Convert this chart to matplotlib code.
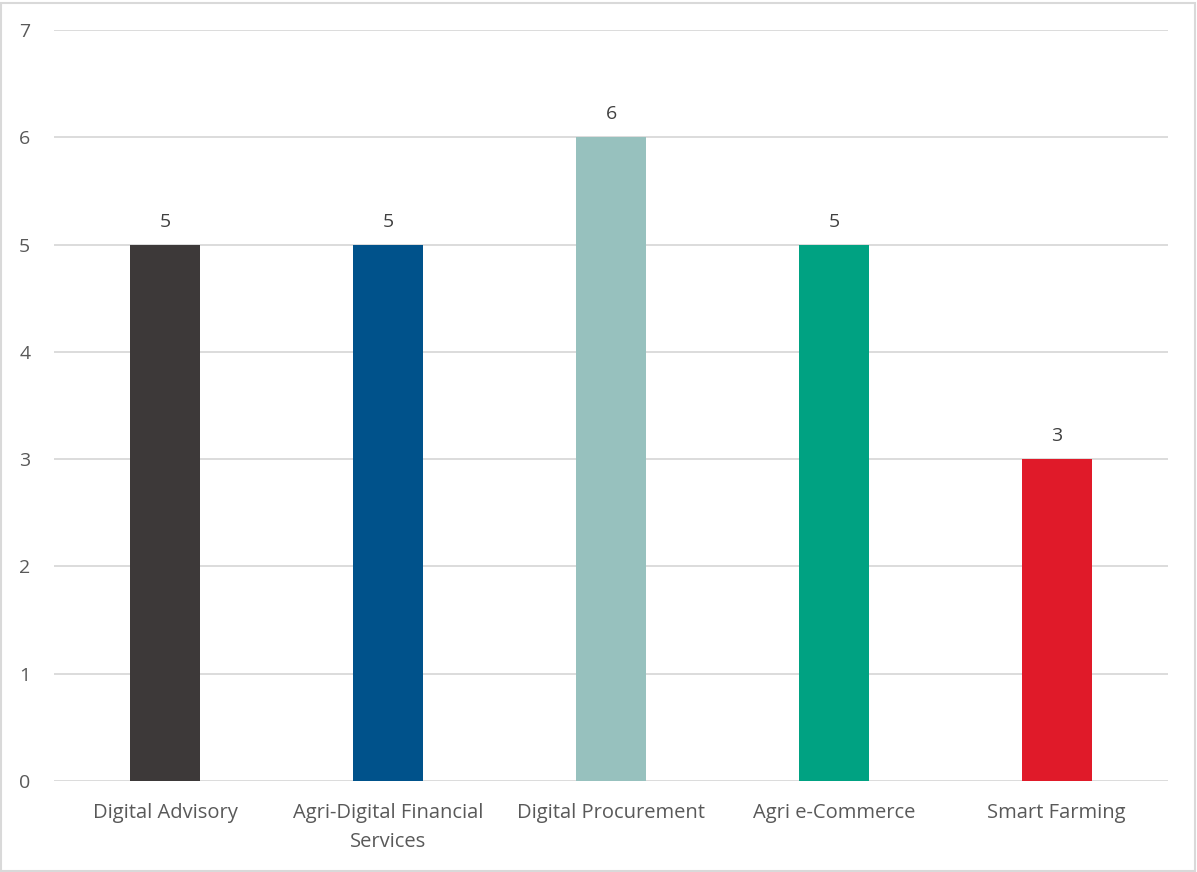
import matplotlib
matplotlib.use("Agg")
import matplotlib.pyplot as plt
from matplotlib.patches import Rectangle

categories = ["Digital Advisory", "Agri-Digital Financial\nServices", "Digital Procurement",
              "Agri e-Commerce", "Smart Farming"]
values = [5, 5, 6, 5, 3]
colors = ["#3D3939", "#00528B", "#97C1BE", "#00A282", "#E01A29"]
yticks = [0, 1, 2, 3, 4, 5, 6, 7]

plt.rcParams["font.family"] = ["Open Sans", "DejaVu Sans"]
text_color = "#595959"

fig = plt.figure(figsize=(11.97, 8.72), dpi=100)
ax = fig.add_axes([0.0451, 0.1044, 0.9307, 0.8612])

x = list(range(len(categories)))
bars = ax.bar(x, values, width=0.314, color=colors, zorder=3)
for b, v in zip(bars, values):
    ax.annotate(str(v), (b.get_x() + b.get_width() / 2, v), xytext=(0, 10),
                textcoords="offset points", ha="center", va="bottom",
                fontsize=14, color="#404040")

ax.set_xlim(-0.5, len(categories) - 0.5)
ax.set_ylim(0, 7)
ax.set_yticks(yticks)
ax.set_xticks(x)
ax.set_xticklabels(categories, fontsize=14.5, color=text_color, linespacing=1.6)
ax.tick_params(axis="y", labelsize=14, labelcolor=text_color, length=0, pad=17)
ax.tick_params(axis="x", length=0, pad=16)
ax.grid(axis="y", color="#D9D9D9", linewidth=1.3, zorder=0)
for s in ax.spines.values():
    s.set_visible(False)

fig.patches.append(Rectangle((0.001, 0.001), 0.997, 0.996, transform=fig.transFigure,
                             fill=False, edgecolor="#D9D9D9", linewidth=1.5))

fig.savefig("out.png", dpi=100)
